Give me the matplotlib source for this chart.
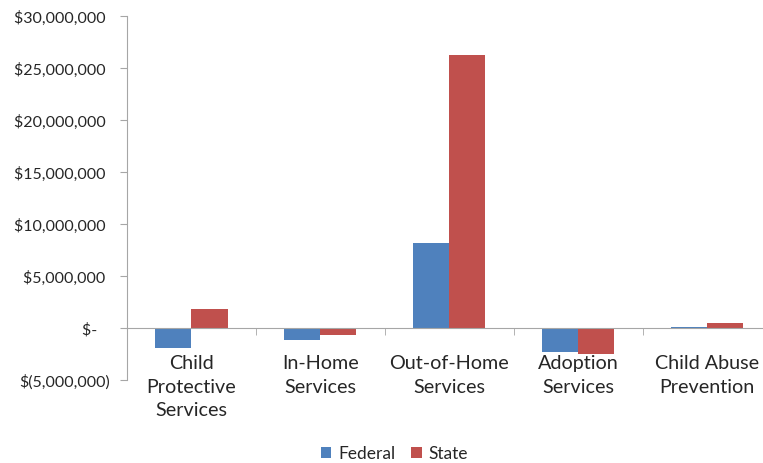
import matplotlib
matplotlib.use("Agg")
import matplotlib.pyplot as plt
import numpy as np
from matplotlib.ticker import FuncFormatter, FixedLocator

plt.rcParams['font.family'] = ['Lato', 'DejaVu Sans']

# Change in spending by program area
categories = ["Child\nProtective\nServices", "In-Home\nServices", "Out-of-Home\nServices",
              "Adoption\nServices", "Child Abuse\nPrevention"]
federal = [-1.9e6, -1.2e6, 8.2e6, -2.3e6, 0.1e6]
state = [1.8e6, -0.7e6, 26.3e6, -2.5e6, 0.5e6]

def money(v, pos):
    if v == 0:
        return "$-   "
    if v < 0:
        return "$({:,.0f})".format(-v)
    return "${:,.0f} ".format(v)

fig = plt.figure(figsize=(7.63, 4.64), dpi=100)
ax = fig.add_axes([0.1664, 0.179, 0.845, 0.784])

x = np.arange(len(categories))
w = 0.28
ax.bar(x - w / 2, federal, w, color='#4F81BD', label='Federal')
ax.bar(x + w / 2, state, w, color='#C0504D', label='State')

ax.set_xlim(-0.5, len(categories) - 0.5)
ax.set_ylim(-5e6, 30e6)
ax.set_yticks(np.arange(-5e6, 30e6 + 1, 5e6))
ax.yaxis.set_major_formatter(FuncFormatter(money))

for s in ['top', 'right']:
    ax.spines[s].set_visible(False)
ax.spines['left'].set_color('#A6A6A6')
ax.spines['bottom'].set_color('#A6A6A6')
ax.spines['bottom'].set_position(('data', 0))

ax.set_xticks(x)
ax.set_xticklabels(categories, fontsize=14.2, color='#262626', linespacing=1.44)
ax.xaxis.set_minor_locator(FixedLocator(np.arange(0.5, len(categories), 1)))
ax.tick_params(axis='x', which='major', length=0, pad=19)
ax.tick_params(axis='x', which='minor', length=5, color='#A6A6A6', direction='out')
ax.tick_params(axis='y', length=5, color='#A6A6A6', labelsize=11.5, labelcolor='#262626', pad=7.5)

fig.legend(loc='lower center', bbox_to_anchor=(0.517, -0.03), ncol=2, frameon=False,
           fontsize=12.5, handlelength=0.6, handleheight=0.6, handletextpad=0.4,
           columnspacing=0.9, labelcolor='#262626')

fig.savefig("out.png", dpi=100)
